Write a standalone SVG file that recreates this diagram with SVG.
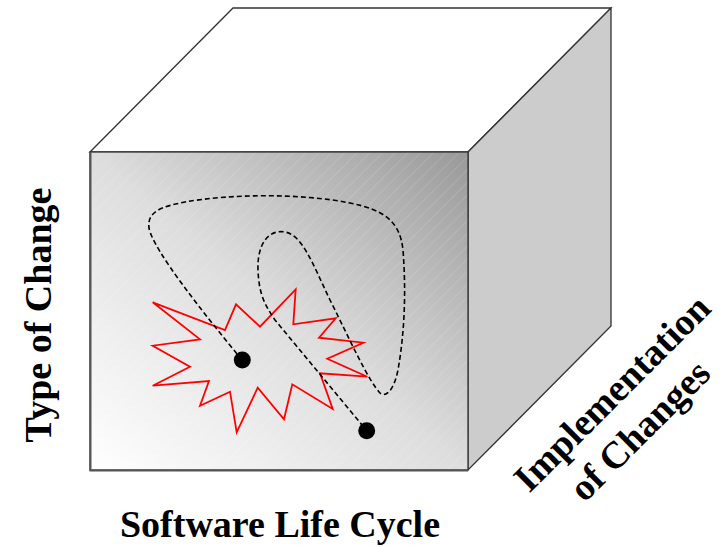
<svg xmlns="http://www.w3.org/2000/svg" width="721" height="547" viewBox="0 0 721 547">
  <style>
    .edge { stroke: #333; stroke-width: 1.3; stroke-linejoin: miter; }
    .label { font-family: "Liberation Serif", "Times New Roman", serif; font-weight: bold; font-size: 38px; fill: #000; }
    .path { fill: none; stroke: #000; stroke-width: 1.6; stroke-dasharray: 5 3; }
  </style>
  <defs>
    <linearGradient id="frontShade" x1="0" y1="1" x2="1" y2="0">
      <stop offset="0" stop-color="#ffffff"/>
      <stop offset="0.5" stop-color="#dddddd"/>
      <stop offset="1" stop-color="#999999"/>
    </linearGradient>
    <pattern id="hatch" width="9" height="9" patternUnits="userSpaceOnUse" patternTransform="rotate(45)">
      <line x1="0" y1="0" x2="0" y2="9" stroke="#ffffff" stroke-width="0.8" stroke-opacity="0.3"/>
    </pattern>
  </defs>
  <rect width="721" height="547" fill="#ffffff"/>

  <!-- cube -->
  <g id="cube">
    <polygon class="edge" points="90,152 233,8 611,8 468,152" fill="#ffffff"/>
    <polygon class="edge" points="468,152 611,8 611,326 468,470" fill="#cccccc"/>
    <rect x="90" y="152" width="378" height="318" fill="url(#frontShade)"/>
    <rect x="90" y="152" width="378" height="318" fill="url(#hatch)"/>
    <rect class="edge" x="90" y="152" width="378" height="318" fill="none"/>
    <polyline points="90.5,152 90.5,470.5 468,470.5" fill="none" stroke="#555" stroke-width="2"/>
  </g>

  <!-- red burst -->
  <g id="burst">
    <polygon points="152.7,302.3 225,330 236,304.3 260,326.7 295.7,289.3 293.3,324.3 335.7,318.3 319,337.7 363.3,342.7 327.3,358.7 367.3,376.7 320,373.3 332.7,409 292.3,384.3 284,419.3 257.7,387.7 236.7,432.3 230,391.7 200,405.7 209,381 152.7,385.7 190,366.7 152.7,345.7 200,339.3" fill="none" stroke="#ff0000" stroke-width="1.8" stroke-linejoin="miter"/>
  </g>

  <!-- dashed trajectory -->
  <g id="connectors">
    <path class="path" d="M 242 360 C 205 315, 153 250, 149 228 C 147 212, 160 207, 185 202 C 230 194, 300 193, 350 203 C 385 210, 400 222, 403 250 C 406 290, 405 330, 398 370 C 394 390, 386 398, 380 393 C 368 380, 350 340, 330 300 C 312 262, 302 235, 285 232 C 268 229, 257 245, 258 270 C 259 295, 265 305, 275 320 L 367 431"/>
  </g>

  <!-- events -->
  <g id="event-a"><circle cx="242.3" cy="360" r="8.5" fill="#000"/></g>
  <g id="event-b"><circle cx="366.7" cy="430.7" r="8.5" fill="#000"/></g>

  <!-- axis labels -->
  <g id="axis-type">
    <text class="label" transform="translate(51,315) rotate(-90)" text-anchor="middle">Type of Change</text>
  </g>
  <g id="axis-lifecycle">
    <text class="label" x="280" y="537" text-anchor="middle">Software Life Cycle</text>
  </g>
  <g id="axis-implementation" transform="translate(621,402) rotate(-45)">
    <text class="label" x="0" y="0" text-anchor="middle">Implementation</text>
    <text class="label" x="-7" y="46" text-anchor="middle">of Changes</text>
  </g>
</svg>
